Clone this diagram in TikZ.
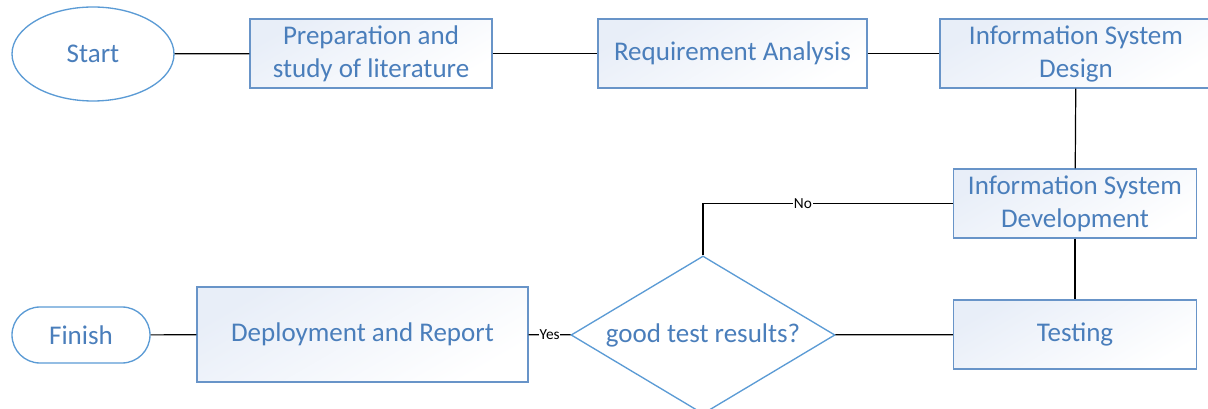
\documentclass[tikz,border=0pt]{standalone}
\usepackage{fontspec}
\setmainfont{Carlito}
\usepackage{tikz}
\usetikzlibrary{shapes,shapes.geometric}
\definecolor{khung}{RGB}{104,148,200}
\definecolor{vien}{RGB}{91,155,213}
\definecolor{chu}{RGB}{74,126,187}
\definecolor{nen}{RGB}{232,238,248}
\tikzset{
	buoc/.style={draw=khung, line width=1pt, top color=nen, bottom color=white, shading angle=30,
		text=chu, align=center, inner sep=0pt, minimum height=51.75pt,
		font=\fontsize{20.25}{24.75}\selectfont},
	dau/.style={draw=vien, line width=1pt, fill=white, text=chu, inner sep=0pt,
		font=\fontsize{20.25}{24.75}\selectfont},
	noi/.style={line width=0.9pt, black},
	nhan/.style={fill=white, inner sep=0.5pt, text=black, font=\fontsize{11.5}{13}\selectfont}
}
\begin{document}
\begin{tikzpicture}[x=0.75pt,y=-0.75pt]
			\useasboundingbox (0,0) rectangle (1208,409);
			\node[dau, ellipse, minimum width=121.5pt, minimum height=70.5pt] (batdau) at (93,54) {Start};
			\node[buoc, minimum width=181.5pt] (chuanbi) at (371,53.5) {Preparation and\\study of literature};
			\node[buoc, minimum width=201.75pt] (yeucau) at (732.5,53.5) {Requirement Analysis};
			\node[buoc, minimum width=204pt] (thietke) at (1076,53.5) {Information System\\Design};
			\node[buoc, minimum width=182.25pt] (phattrien) at (1075,203.5) {Information System\\Development};
			\node[buoc, minimum width=182.25pt] (kiemthu) at (1075,334.5) {Testing};
			\node[dau, diamond, aspect=1.67, minimum width=198pt, minimum height=118.5pt] (kiemtra) at (703,335) {good test results?};
			\node[buoc, minimum width=248.25pt, minimum height=71.25pt] (trienkhai) at (362.5,334.5) {Deployment and Report};
			\node[dau, rectangle, rounded corners=21pt, minimum width=103.5pt, minimum height=42pt] (ketthuc) at (81,335) {Finish};
			\draw[noi] (batdau) -- (chuanbi);
			\draw[noi] (chuanbi) -- (yeucau);
			\draw[noi] (yeucau) -- (thietke);
			\draw[noi] (thietke) -- (phattrien);
			\draw[noi] (phattrien) -- (kiemthu);
			\draw[noi] (kiemthu) -- (kiemtra);
			\draw[noi] (kiemtra.north) |- node[nhan, pos=0.7] {No} (phattrien.west);
			\draw[noi] (kiemtra) -- node[nhan] {Yes} (trienkhai);
			\draw[noi] (trienkhai) -- (ketthuc);
		\end{tikzpicture}
\end{document}
